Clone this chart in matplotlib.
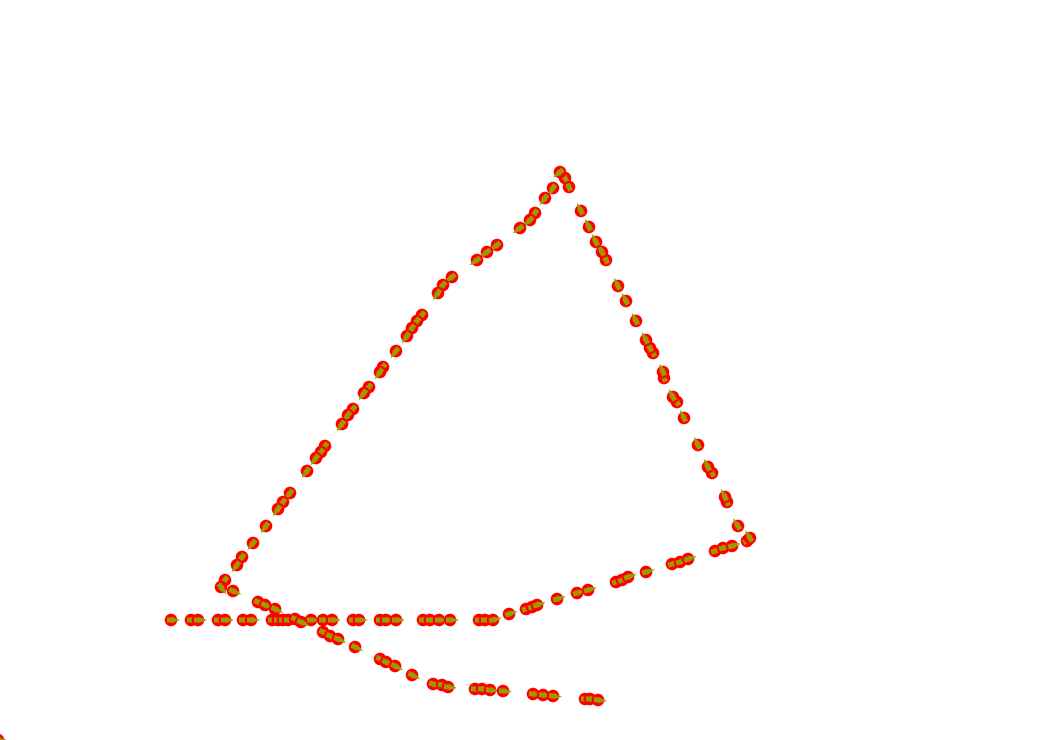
import numpy as np
import matplotlib
matplotlib.use("Agg")
import matplotlib.pyplot as plt

# Track positions (x east, y north, arbitrary units)
track_x = [171, 191, 198, 218, 225, 243, 251, 272, 278, 283, 288, 311, 323, 332, 353, 359,
           380, 386, 396, 423, 430, 439, 450, 479, 485, 493,
           509, 526, 532, 537, 557, 577, 588, 616, 622, 628, 646, 672, 680, 688, 715, 723,
           732, 747, 750,
           738, 727, 725, 712, 708, 698, 684, 677, 673, 664, 663, 653, 650, 646, 636, 626,
           618, 606, 602, 596, 589, 581, 569, 565, 560,
           553, 545, 535, 530, 520, 497, 487, 477, 452, 443, 438, 422, 417, 412, 407, 396,
           383, 380, 369, 364, 353, 348, 342, 325, 321, 316, 307, 290, 283, 278, 266, 253,
           242, 237, 225, 221, 233,
           258, 265, 275, 295, 301, 323, 330, 338, 355, 380, 386, 395, 412, 433, 442, 448,
           475, 482, 490, 503, 533, 543, 553, 585, 590, 598]
track_y = [120, 120, 120, 120, 120, 120, 120, 120, 120, 120, 120, 120, 120, 120, 120, 120,
           120, 120, 120, 120, 120, 120, 120, 120, 120, 120,
           126, 131, 133, 135, 141, 147, 150, 158, 160, 163, 168, 176, 178, 181, 189, 192,
           194, 199, 202,
           214, 238, 243, 267, 273, 295, 322, 338, 343, 362, 368, 387, 392, 400, 419, 439,
           454, 480, 488, 498, 513, 529, 553, 562, 568,
           552, 542, 527, 520, 512, 495, 488, 480, 463, 455, 447, 425, 419, 412, 404, 389,
           373, 368, 353, 347, 331, 325, 316, 294, 288, 282, 269, 247, 238, 231, 214, 197,
           183, 175, 160, 153, 149,
           138, 135, 131, 121, 118, 108, 104, 101, 93, 81, 78, 74, 65, 56, 55, 53,
           51, 51, 50, 49, 46, 45, 44, 41, 41, 40]

# Stray fix far from the track
stray_x = [-2]
stray_y = [0]

RED = "#ff0000"
OLIVE = "#9b9b00"

fig = plt.figure(figsize=(10.4, 7.4), dpi=100)
ax = fig.add_axes([0, 0, 1, 1])
ax.set_xlim(0, 1040)
ax.set_ylim(0, 740)
ax.axis("off")

x = np.array(track_x, dtype=float)
y = np.array(track_y, dtype=float)
# heading from neighbouring fixes
dx = np.gradient(x)
dy = np.gradient(y)
norm = np.hypot(dx, dy)
norm[norm == 0] = 1
ux, uy = dx / norm, dy / norm

all_x = list(stray_x) + list(x)
all_y = list(stray_y) + list(y)
all_ux = [1.0] + list(ux)
all_uy = [0.0] + list(uy)

L = 13.0
for i, (px, py, hx, hy) in enumerate(zip(all_x, all_y, all_ux, all_uy)):
    z = 2 + 2 * i
    ax.scatter([px], [py], s=82, c=RED, edgecolors="none", zorder=z)
    ax.quiver([px - 4 * hx], [py - 4 * hy], [hx * L], [hy * L],
              angles="xy", scale_units="dots", scale=1, units="dots",
              width=5, headwidth=1.35, headlength=1.8, headaxislength=1.6,
              color=OLIVE, zorder=z + 1)

fig.savefig("out.png", dpi=100)
